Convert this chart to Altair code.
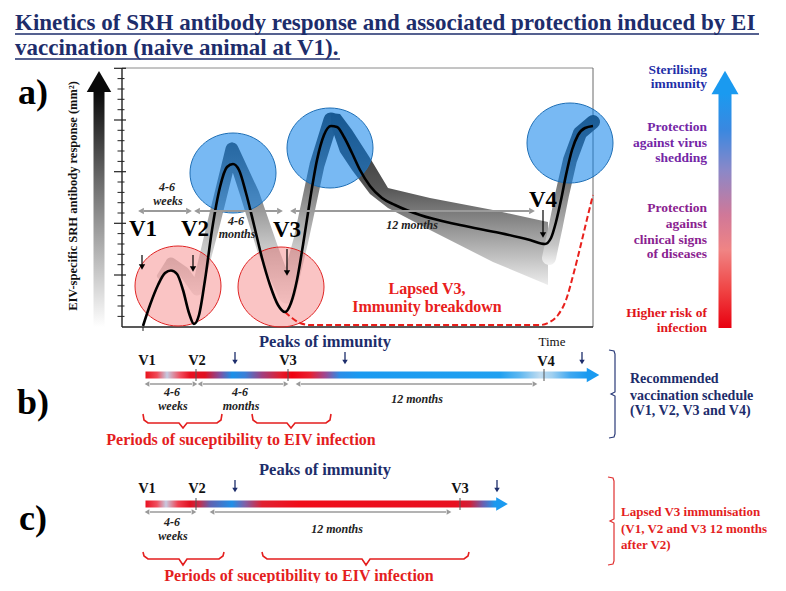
import altair as alt
import pandas as pd

FONT = "Liberation Serif"
NAVY = "#1d2d6b"
RED = "#e41e1e"
GREY = "#9a9a9a"

# ---------------- data ----------------
title_lines = ["Kinetics of SRH antibody response and associated protection induced by EI",
               "vaccination (naive animal at V1)."]
title_x = [15, 15]
title_y = [30, 55]
underline_x1 = [15, 15]
underline_x2 = [759, 340]
underline_y = [34, 59]

panel_labels = ["a)", "b)", "c)"]
panel_label_x = [33, 33, 33]
panel_label_y = [104, 414, 530]

y_title = ["EIV-specific SRH antibody response (mm\u00b2)"]

major_ticks = [68.3, 120, 171.7, 223.3, 275]
minor_ticks = [78.6, 89, 99.3, 109.7, 130.3, 140.7, 151, 161.4, 182, 192.4, 202.7, 213,
               233.6, 244, 254.3, 264.7, 285.3, 295.7, 306, 316.4]

# antibody response curve (time -> response, in figure units)
curve_x = [143, 150, 158, 165, 171, 177, 183, 189, 194, 199, 205, 212, 220, 227, 233, 239, 246, 254,
           262, 270, 278, 285, 291, 297, 303, 310, 317, 324, 331, 337, 344, 352, 360, 370, 382, 395,
           420, 460, 500, 530, 545, 551, 556, 561, 566, 572, 578, 585, 593]
curve_y = [326, 305, 285, 273, 270.5, 274, 290, 313, 324, 315, 280, 230, 187, 167, 164, 170, 193, 225,
           258, 285, 305, 312, 303, 280, 245, 200, 160, 135, 126, 127, 137, 153, 170, 186, 198, 205,
           215, 225, 233, 240, 244, 238, 222, 200, 175, 150, 135, 128, 126]

# shaded variability band: first part (V1 -> third peak)
band1_x = [160, 171, 184, 197, 214, 232, 250, 268, 287, 301, 317, 331]
band1_y = [276, 263, 272, 290, 222, 149, 195, 250, 295, 240, 165, 120]
band1_w = [6, 11, 11, 11, 13, 13, 19, 21, 17, 15, 15, 15]
# second part (decay after third peak): upper and lower edges
band2_x = [331, 340, 352, 370, 388, 430, 493, 548]
band2_top = [113, 114, 130, 158, 188, 198, 210, 222]
band2_bot = [126, 152, 170, 194, 208, 230, 262, 285]
# third part (rise after V4)
band3_x = [549, 556, 562, 570, 580, 593]
band3_y = [258, 225, 195, 160, 133, 122]
band3_w = [14, 14, 14, 14, 14, 14]

# lapsed V3 dashed curve
lapsed_x = [285, 292, 300, 310, 540, 550, 558, 566, 574, 582, 588, 593]
lapsed_y = [312, 318, 323, 325, 325, 322, 315, 300, 272, 240, 215, 195]

blue_x = [233, 330, 570]
blue_y = [173, 148, 143]
pink_x = [178, 281]
pink_y = [286, 287]

va_labels = ["V1", "V2", "V3", "V4"]
va_x = [143, 195, 287, 543]
va_y = [229, 229, 230, 200]
va_arrow_x = [142, 193, 287, 543]
va_arrow_top = [255, 255, 249, 210]
va_arrow_bot = [270, 272, 276, 238]

span_a_x1 = [141, 197, 293]
span_a_x2 = [189, 280, 532]
span_a_y = [211, 211, 211]
span_a_text = ["4-6", "weeks", "4-6", "months", "12 months"]
span_a_tx = [167, 168, 236, 237, 412]
span_a_ty = [187, 201, 221, 234, 225]

lapsed_text = ["Lapsed V3,", "Immunity breakdown"]
lapsed_tx = [427, 427]
lapsed_ty = [289, 307]

legend_text = ["Sterilising", "immunity", "Protection", "against virus", "shedding",
               "Protection", "against", "clinical signs", "of diseases", "Higher risk of", "infection"]
legend_y = [70, 84, 127, 143, 158, 208, 224, 240, 254, 313, 328]
legend_col = ["#1f2fa8", "#1f2fa8", "#7426a6", "#7426a6", "#7426a6",
              "#8a2290", "#8a2290", "#8a2290", "#8a2290", "#e0141a", "#e0141a"]

# panel b
b_v_labels = ["V1", "V2", "V3", "V4"]
b_v_x = [147, 197, 288, 546]
b_v_y = [361, 361, 361, 362]
b_tick_x = [196, 288, 544]
b_peak_x = [235, 345, 582]
b_bar_stops = [(145, "#e8141c"), (157, "#f04a58"), (167, "#c4cce2"), (180, "#f05060"), (190, "#e81020"),
               (205, "#e01020"), (220, "#8050a0"), (232, "#1a90e8"), (245, "#3a80d8"), (262, "#a04080"),
               (280, "#e02030"), (292, "#f00010"), (310, "#e82030"), (325, "#a04890"), (340, "#2a8ee8"),
               (360, "#1a9af0"), (500, "#20a0f0"), (520, "#60b8f0"), (540, "#c0dcf0"), (552, "#a0d0f0"),
               (570, "#40a8f0"), (587, "#1a9af0")]
b_span_x1 = [147, 200, 298]
b_span_x2 = [195, 286, 535]
b_span_text = ["4-6", "weeks", "4-6", "months", "12 months"]
b_span_tx = [172, 173, 240, 241, 417]
b_span_ty = [392, 406, 392, 406, 399]
b_brace_x1 = [143, 252]
b_brace_x2 = [222, 331]
b_brace_tip = [183, 291]
b_side_text = ["Recommended", "vaccination schedule", "(V1, V2, V3 and V4)"]
b_side_y = [379, 396, 411]

# panel c
c_v_labels = ["V1", "V2", "V3"]
c_v_x = [147, 197, 460]
c_v_y = [489, 489, 489]
c_tick_x = [196, 460]
c_peak_x = [235, 497]
c_bar_stops = [(145, "#e81020"), (157, "#f05060"), (166, "#c8cae0"), (178, "#f04050"), (190, "#e01020"),
               (200, "#c03050"), (210, "#6060b0"), (232, "#2090e8"), (245, "#8060a8"), (262, "#e02030"),
               (300, "#f00c18"), (455, "#e81020"), (470, "#d02038"), (483, "#6a60b0"), (495, "#1a9af0")]
c_span_x1 = [147, 212]
c_span_x2 = [194, 449]
c_span_text = ["4-6", "weeks", "12 months"]
c_span_tx = [172, 173, 337]
c_span_ty = [522, 536, 529]
c_brace_x1 = [143, 262]
c_brace_x2 = [224, 469]
c_brace_tip = [183, 366]
c_side_text = ["Lapsed V3 immunisation", "(V1, V2 and V3 12 months", "after V2)"]
c_side_y = [512, 529, 545]

# ---------------- helpers ----------------
XS = alt.Scale(domain=[8, 778])
YS = alt.Scale(domain=[8, 583], reverse=True)


def X(f="x"):
    return alt.X(f"{f}:Q", scale=XS, axis=None)


def Y(f="y"):
    return alt.Y(f"{f}:Q", scale=YS, axis=None)


def texts(xs, ys, labels, size, color, align="center", weight="bold", style="normal",
          baseline="middle", angle=None):
    df = pd.DataFrame({"x": xs, "y": ys, "t": labels})
    kw = dict(font=FONT, fontSize=size, fontWeight=weight, fontStyle=style, align=align, baseline=baseline)
    if angle is not None:
        kw["angle"] = angle
    if isinstance(color, list):
        df["c"] = color
        return alt.Chart(df).mark_text(**kw).encode(x=X(), y=Y(), text="t:N",
                                                    color=alt.Color("c:N", scale=None))
    return alt.Chart(df).mark_text(color=color, **kw).encode(x=X(), y=Y(), text="t:N")


def hrules(x1s, x2s, ys, color, width):
    df = pd.DataFrame({"x": x1s, "x2": x2s, "y": ys})
    return alt.Chart(df).mark_rule(color=color, strokeWidth=width).encode(
        x=X(), x2=alt.X2("x2:Q"), y=Y())


def vrules(xs, y1s, y2s, color, width):
    df = pd.DataFrame({"x": xs, "y": y1s, "y2": y2s})
    return alt.Chart(df).mark_rule(color=color, strokeWidth=width).encode(
        x=X(), y=Y(), y2=alt.Y2("y2:Q"))


def symbols(xs, ys, shape, size, color, **kw):
    df = pd.DataFrame({"x": xs, "y": ys})
    return alt.Chart(df).mark_point(shape=shape, size=size, filled=True, color=color,
                                    opacity=1, **kw).encode(x=X(), y=Y())


def polyline(xs, ys, groups, color, width, interp="linear"):
    df = pd.DataFrame({"x": xs, "y": ys, "g": groups, "i": list(range(len(xs)))})
    return alt.Chart(df).mark_line(color=color, strokeWidth=width, interpolate=interp).encode(
        x=X(), y=Y(), detail="g:N", order="i:Q")


def grad(stops_px, p0, p1, vertical=False):
    stops = []
    for p, c in stops_px:
        off = min(max((p - p0) / (p1 - p0), 0.0), 1.0)
        stops.append(alt.GradientStop(offset=off, color=c))
    if vertical:
        return alt.LinearGradient(gradient="linear", stops=stops, x1=0, x2=0, y1=0, y2=1)
    return alt.LinearGradient(gradient="linear", stops=stops, x1=0, x2=1, y1=0, y2=0)


def rect(x0, x1, y0, y1, fill):
    df = pd.DataFrame({"x": [x0], "x2": [x1], "y": [y0], "y2": [y1]})
    return alt.Chart(df).mark_rect(color=fill).encode(x=X(), x2=alt.X2("x2:Q"), y=Y(), y2=alt.Y2("y2:Q"))


def double_arrows(x1s, x2s, y, color=GREY, width=1.8, head=40):
    ys = [y] * len(x1s)
    return [hrules([a + 3 for a in x1s], [b - 3 for b in x2s], ys, color, width),
            symbols(x1s, ys, "triangle-left", head, color),
            symbols(x2s, ys, "triangle-right", head, color)]


def braces(x1s, x2s, tips, ytop, ymid, ytip):
    xs, ys, gs = [], [], []
    for k, (a, b, t) in enumerate(zip(x1s, x2s, tips)):
        px = [a, a + 1, a + 5, t - 4, t, t + 4, b - 5, b - 1, b]
        py = [ytop, ymid - 3, ymid, ymid, ytip, ymid, ymid, ymid - 3, ytop]
        xs += px
        ys += py
        gs += [k] * len(px)
    return polyline(xs, ys, gs, RED, 1.6)


def side_bracket(x, y0, y1, ymid, color):
    px = [x - 6, x - 1, x, x, x - 4, x, x, x - 1, x - 6]
    py = [y0, y0 + 1, y0 + 4, ymid - 2, ymid, ymid + 2, y1 - 4, y1 - 1, y1]
    return polyline(px, py, [0] * len(px), color, 1.2)


def v_arrows(xs, tops, bots, color, width, head):
    return [vrules(xs, tops, [b - 4 for b in bots], color, width),
            symbols(xs, [b - 3 for b in bots], "triangle-down", head, color)]


def trail(xs, ys, ws, fill):
    df = pd.DataFrame({"x": xs, "y": ys, "w": ws, "i": list(range(len(xs)))})
    return alt.Chart(df).mark_trail(color=fill).encode(
        x=X(), y=Y(), size=alt.Size("w:Q", scale=None, legend=None), order="i:Q")


BAND_GREYS = [(112, "#2e2e2e"), (160, "#5c5c5c"), (200, "#8e8e8e"), (245, "#c6c6c6"), (300, "#f2f2f2")]

layers = []

# ---------------- title ----------------
layers.append(texts(title_x, title_y, title_lines, 23, NAVY, align="left", baseline="alphabetic"))
layers.append(hrules(underline_x1, underline_x2, underline_y, NAVY, 1.3))
layers.append(texts(panel_label_x, panel_label_y, panel_labels, 36, "#000000", baseline="alphabetic"))

# ---------------- panel a ----------------
layers.append(rect(93.5, 104.5, 92, 327,
                   grad([(92, "#0a0a0a"), (180, "#6a6a6a"), (327, "#ffffff")], 92, 327, vertical=True)))
layers.append(symbols([99], [81.5], "triangle-up", 600, "#0a0a0a"))
layers.append(texts([73], [196], y_title, 12.5, "#111111", angle=270))

# frame
layers.append(hrules([122], [593], [68], "#8a8a8a", 1))
layers.append(vrules([593], [68], [327], "#6a6a6a", 1))
layers.append(vrules([122], [68], [327], "#222222", 1.4))
layers.append(hrules([122], [593], [327], "#222222", 1.4))
layers.append(hrules([114] * len(major_ticks), [126] * len(major_ticks), major_ticks, "#222222", 1.2))
layers.append(hrules([117.5] * len(minor_ticks), [124.5] * len(minor_ticks), minor_ticks, "#222222", 1))
layers.append(vrules([143], [327], [331], "#222222", 1))

# band
layers.append(trail(band1_x, band1_y, band1_w, grad(BAND_GREYS, 112, 304, vertical=True)))
band2_df = pd.DataFrame({"x": band2_x, "y": band2_top, "y2": band2_bot})
layers.append(alt.Chart(band2_df).mark_area(
    color=grad([(113, "#2a2a2a"), (188, "#565656"), (222, "#8a8a8a"), (285, "#ececec")], 113, 285, vertical=True)
).encode(x=X(), y=Y(), y2=alt.Y2("y2:Q")))
layers.append(trail(band3_x, band3_y, band3_w, grad(BAND_GREYS, 115, 265, vertical=True)))

# protection circles
ellipse = "M-1,0A1,0.93,0,1,1,1,0A1,0.93,0,1,1,-1,0Z"
layers.append(alt.Chart(pd.DataFrame({"x": pink_x, "y": pink_y})).mark_point(
    shape=ellipse, size=7396, filled=True, fill="#f03c3c", fillOpacity=0.3, stroke="#e02424",
    strokeWidth=1, strokeOpacity=1, opacity=1).encode(x=X(), y=Y()))
layers.append(alt.Chart(pd.DataFrame({"x": blue_x, "y": blue_y})).mark_point(
    shape=ellipse, size=7396, filled=True, fill="#0a80ea", fillOpacity=0.55, stroke="#1f6fb5",
    strokeWidth=1, strokeOpacity=1, opacity=1).encode(x=X(), y=Y()))

# lapsed dashed
layers.append(alt.Chart(pd.DataFrame({"x": lapsed_x, "y": lapsed_y})).mark_line(
    color="#e8201c", strokeWidth=2, strokeDash=[6, 3], interpolate="monotone").encode(x=X(), y=Y()))

# main curve
layers.append(alt.Chart(pd.DataFrame({"x": curve_x, "y": curve_y})).mark_line(
    color="#000000", strokeWidth=2.6, interpolate="monotone").encode(x=X(), y=Y()))

layers += double_arrows(span_a_x1, span_a_x2, span_a_y[0], GREY, 1.8, 45)
layers.append(texts(span_a_tx, span_a_ty, span_a_text, 12, "#222222", style="italic"))
layers.append(texts(va_x, va_y, va_labels, 23, "#000000"))
layers += v_arrows(va_arrow_x, va_arrow_top, va_arrow_bot, "#000000", 1.2, 40)
layers.append(texts(lapsed_tx, lapsed_ty, lapsed_text, 16, "#e8201c"))

# legend arrow
layers.append(rect(718.5, 731.5, 93, 328,
                   grad([(93, "#1a9af0"), (130, "#3a88e0"), (170, "#8a88c8"), (215, "#d07898"),
                         (250, "#f08484"), (290, "#f04444"), (328, "#e80010")], 93, 328, vertical=True)))
layers.append(symbols([725], [82.5], "triangle-up", 729, "#1a9af0"))
layers.append(texts([707] * len(legend_text), legend_y, legend_text, 13.5, legend_col, align="right"))

# ---------------- panel b ----------------
layers.append(texts([325], [342], ["Peaks of immunity"], 16.5, NAVY))
layers.append(texts([552], [342], ["Time"], 13, "#111111", weight="normal"))
layers.append(texts(b_v_x, b_v_y, b_v_labels, 14.5, "#111111"))
layers += v_arrows(b_peak_x, [352] * 3, [365] * 3, NAVY, 1.3, 30)
layers.append(rect(145.5, 588, 371.5, 378.5, grad(b_bar_stops, 145.5, 588)))
layers.append(symbols([593], [375], "triangle-right", 210, "#1a9af0"))
layers.append(vrules(b_tick_x, [369] * 3, [381] * 3, "#555555", 1))
layers += double_arrows(b_span_x1, b_span_x2, 384, GREY, 1.6, 30)
layers.append(texts(b_span_tx, b_span_ty, b_span_text, 12, "#222222", style="italic"))
layers.append(braces(b_brace_x1, b_brace_x2, b_brace_tip, 414, 423, 428))
layers.append(texts([241], [440], ["Periods of suceptibility to EIV infection"], 16, RED))
layers.append(side_bracket(615, 350, 438, 394, "#2a3a78"))
layers.append(texts([630] * 3, b_side_y, b_side_text, 14, NAVY, align="left"))

# ---------------- panel c ----------------
layers.append(texts([325], [470], ["Peaks of immunity"], 16.5, NAVY))
layers.append(texts(c_v_x, c_v_y, c_v_labels, 14.5, "#111111"))
layers += v_arrows(c_peak_x, [480] * 2, [493] * 2, NAVY, 1.3, 30)
layers.append(rect(145.5, 497, 500.5, 507.5, grad(c_bar_stops, 145.5, 497)))
layers.append(symbols([502], [504], "triangle-right", 180, "#1a9af0"))
layers.append(vrules(c_tick_x, [498] * 2, [510] * 2, "#555555", 1))
layers += double_arrows(c_span_x1, c_span_x2, 512, GREY, 1.6, 30)
layers.append(texts(c_span_tx, c_span_ty, c_span_text, 12, "#222222", style="italic"))
layers.append(braces(c_brace_x1, c_brace_x2, c_brace_tip, 552, 559, 565))
layers.append(texts([299], [576], ["Periods of suceptibility to EIV infection"], 16, RED))
layers.append(side_bracket(614, 477, 565, 521, "#e03030"))
layers.append(texts([621] * 3, c_side_y, c_side_text, 13, "#e41e1e", align="left"))

chart = alt.layer(*layers).properties(
    width=770, height=575, padding=0, autosize="none"
).configure_view(stroke=None)

chart.save("out.html", embed_options={"renderer": "svg", "actions": False})
